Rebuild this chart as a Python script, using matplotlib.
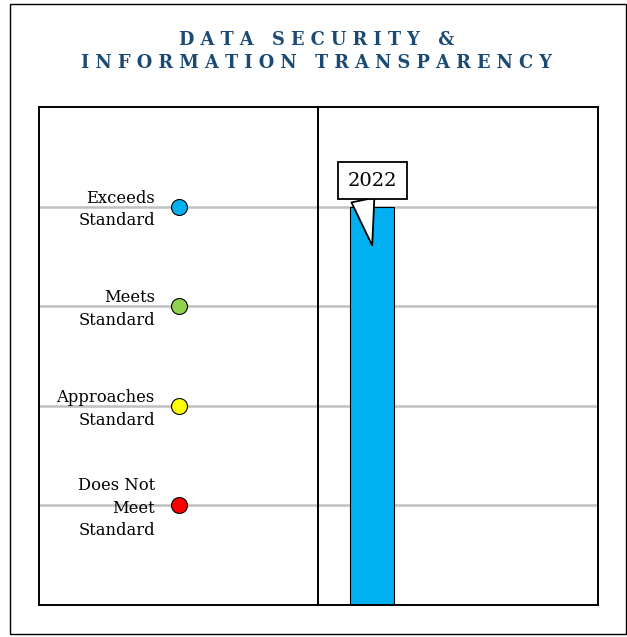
import matplotlib
matplotlib.use("Agg")
import matplotlib.pyplot as plt
from matplotlib.patches import Rectangle

# data
levels = [1, 2, 3, 4]
level_labels = ["Does Not\nMeet\nStandard", "Approaches\nStandard", "Meets\nStandard", "Exceeds\nStandard"]
level_colors = ["#ff0000", "#ffff00", "#92d050", "#00b0f0"]
years = ["2022"]
scores = [4]

plt.rcParams['font.family'] = ['DejaVu Serif']

fig = plt.figure(figsize=(6.27, 6.37), dpi=100)

# outer frame
fig.patches.append(Rectangle((10 / 627, 3 / 637), 616 / 627, 630 / 637,
                             transform=fig.transFigure, fill=False, ec='black', lw=1.0))

def spaced(s):
    return "   ".join(" ".join(w) for w in s.split(" "))

title = spaced("DATA SECURITY &") + "\n" + spaced("INFORMATION TRANSPARENCY")
fig.text(0.505, 0.919, title, ha='center', va='center', fontsize=12.8, fontweight='bold',
         color='#1b4a75', linespacing=1.4)

bottom = 1 - 605 / 637
height = 498 / 637
ax1 = fig.add_axes([39 / 627, bottom, 279 / 627, height])
ax2 = fig.add_axes([318 / 627, bottom, 280 / 627, height])

for ax in (ax1, ax2):
    ax.set_ylim(0, 5)
    ax.set_xticks([])
    ax.set_yticks([])
    for sp in ax.spines.values():
        sp.set_linewidth(1.4)
    for lv in levels:
        ax.axhline(lv, color='#c0c0c0', lw=1.8, zorder=0)

# left legend panel
ax1.set_xlim(0, 1)
for lv, lab, col in zip(levels, level_labels, level_colors):
    ax1.plot(0.5, lv, 'o', ms=11.5, mfc=col, mec='black', mew=0.8, zorder=3)
    ax1.text(0.415, lv - 0.03, lab, ha='right', va='center', fontsize=11.8, linespacing=1.42)

# right bar panel
ax2.set_xlim(-0.96, 4.0)
ax2.bar(range(len(years)), scores, width=0.77, color='#00b0f0', ec='black', lw=0.8, zorder=2)

for i, (yr, sc) in enumerate(zip(years, scores)):
    ax2.annotate(yr, xy=(i, sc - 0.39), xytext=(i, sc + 0.26), ha='center', va='center',
                 fontsize=14, zorder=5,
                 bbox=dict(boxstyle='square,pad=0.5', fc='white', ec='black', lw=1.3),
                 arrowprops=dict(arrowstyle='wedge,tail_width=1.2', fc='white', ec='black',
                                 lw=1.3, relpos=(0.27, 0.0), shrinkA=0, shrinkB=0))

fig.savefig("out.png", dpi=100)
